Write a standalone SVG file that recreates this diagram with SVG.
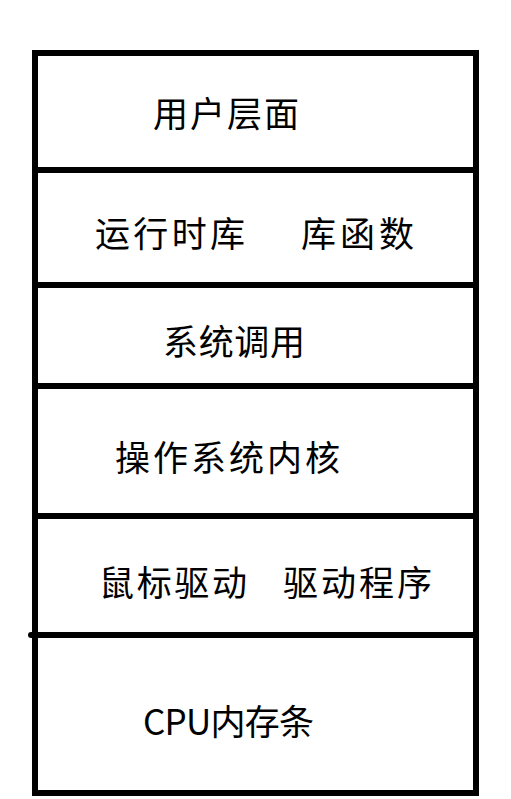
<svg xmlns="http://www.w3.org/2000/svg" width="511" height="799" viewBox="0 0 511 799">
<style>
.box{fill:none;stroke:#000;stroke-width:6}
.sep{stroke:#000;stroke-width:6}
.t{font-family:"Noto Sans CJK SC","Noto Sans CJK JP",sans-serif;font-size:35px;fill:#000;dominant-baseline:central}
</style>
<rect width="511" height="799" fill="#fff"/>
<g id="frame"><rect class="box" x="35" y="53" width="441" height="740"/></g>
<g id="connectors">
<line class="sep" x1="35" y1="170" x2="476" y2="170"/>
<line class="sep" x1="35" y1="285" x2="476" y2="285"/>
<line class="sep" x1="38" y1="386" x2="476" y2="386"/>
<line class="sep" x1="35" y1="516" x2="476" y2="516"/>
<line class="sep" x1="31" y1="635" x2="476" y2="635" stroke-linecap="round"/>
</g>
<g id="n1"><text class="t" x="153" y="111" textLength="146" lengthAdjust="spacing">用户层面</text></g>
<g id="n2"><text class="t" x="95" y="231" textLength="150" lengthAdjust="spacing">运行时库</text><text class="t" x="301" y="231" textLength="113" lengthAdjust="spacing">库函数</text></g>
<g id="n3"><text class="t" x="163" y="339" textLength="142" lengthAdjust="spacing">系统调用</text></g>
<g id="n4"><text class="t" x="115" y="455" textLength="225" lengthAdjust="spacing">操作系统内核</text></g>
<g id="n5"><text class="t" x="99" y="580" textLength="148" lengthAdjust="spacing">鼠标驱动</text><text class="t" x="283" y="580" textLength="149" lengthAdjust="spacing">驱动程序</text></g>
<g id="n6"><text class="t" x="143" y="719" textLength="171" lengthAdjust="spacing">CPU内存条</text></g>
</svg>
